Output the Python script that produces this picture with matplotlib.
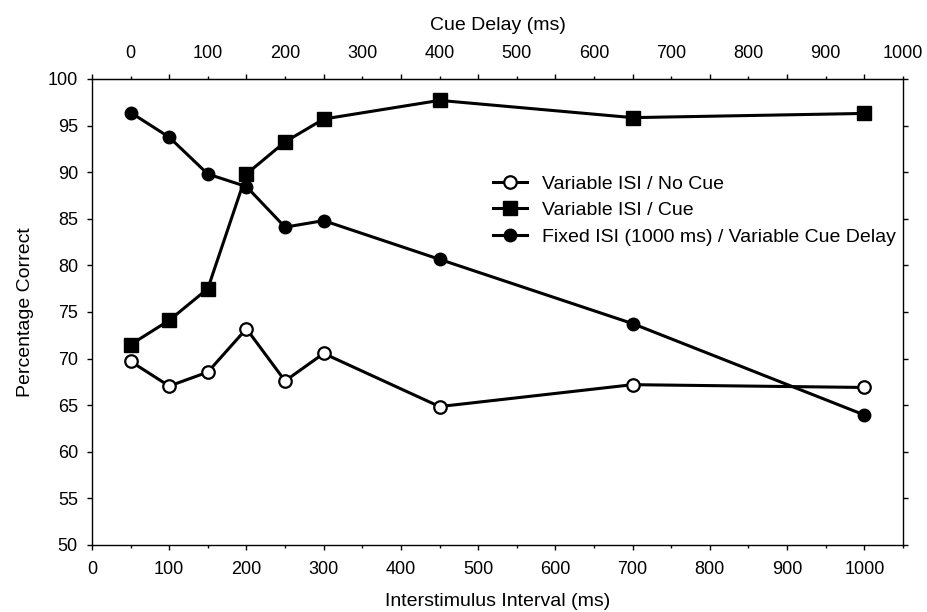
import matplotlib
matplotlib.use("Agg")
import matplotlib.pyplot as plt
from matplotlib.ticker import MultipleLocator, FixedLocator

plt.rcParams["font.family"] = ["Liberation Sans", "DejaVu Sans"]

# Datos
isi = [50, 100, 150, 200, 250, 300, 450, 700, 1000]
no_cue = [69.7, 67.05, 68.55, 73.2, 67.6, 70.55, 64.85, 67.2, 66.9]
cue = [71.5, 74.1, 77.5, 89.8, 93.25, 95.7, 97.7, 95.85, 96.3]
fixed_delay = [96.4, 93.75, 89.8, 88.45, 84.1, 84.8, 80.65, 73.75, 63.95]
cue_delay_ticks = [0, 100, 200, 300, 400, 500, 600, 700, 800, 900, 1000]

labels = ["Variable ISI / No Cue", "Variable ISI / Cue",
          "Fixed ISI (1000 ms) / Variable Cue Delay"]

fig = plt.figure(figsize=(9.28, 6.12), dpi=100)
ax = fig.add_axes([0.0991, 0.1095, 0.8739, 0.7615])

ax.plot(isi, no_cue, color="black", lw=2.2, marker="o", ms=9,
        mfc="white", mec="black", mew=1.6, label=labels[0], zorder=3)
ax.plot(isi, cue, color="black", lw=2.2, marker="s", ms=9.5,
        mfc="black", mec="black", label=labels[1], zorder=3)
ax.plot(isi, fixed_delay, color="black", lw=2.2, marker="o", ms=9,
        mfc="black", mec="black", label=labels[2], zorder=4)

ax.set_xlim(0, 1050)
ax.set_ylim(50, 100)
ax.xaxis.set_major_locator(MultipleLocator(100))
ax.xaxis.set_minor_locator(MultipleLocator(50))
ax.yaxis.set_major_locator(MultipleLocator(5))
ax.tick_params(axis="both", which="major", direction="out", length=3.6,
               width=1, labelsize=13)
ax.tick_params(axis="x", which="major", pad=8)
ax.tick_params(axis="y", which="major", pad=6.5, right=True)
ax.tick_params(axis="x", which="minor", direction="out", length=2.2, width=1)

ax.set_xlabel("Interstimulus Interval (ms)", fontsize=14, labelpad=10.5)
ax.set_ylabel("Percentage Correct", fontsize=14, labelpad=10)

# Eje superior: retardo de la clave = ISI - 50
top = ax.secondary_xaxis("top", functions=(lambda x: x - 50, lambda x: x + 50))
top.xaxis.set_major_locator(FixedLocator(cue_delay_ticks))
top.xaxis.set_minor_locator(MultipleLocator(100, offset=50))
top.tick_params(which="major", direction="out", length=2.2, width=1,
                pad=10, labelsize=13)
top.tick_params(which="minor", direction="out", length=3.6, width=1)
top.set_xlabel("Cue Delay (ms)", fontsize=14, labelpad=10.5)

for s in ax.spines.values():
    s.set_linewidth(1)

ax.legend(loc="upper left", bbox_to_anchor=(0.485, 0.81), frameon=False,
          fontsize=14, handlelength=1.75, handletextpad=0.75,
          labelspacing=0.45, borderaxespad=0)

fig.savefig("out.png", dpi=100)
